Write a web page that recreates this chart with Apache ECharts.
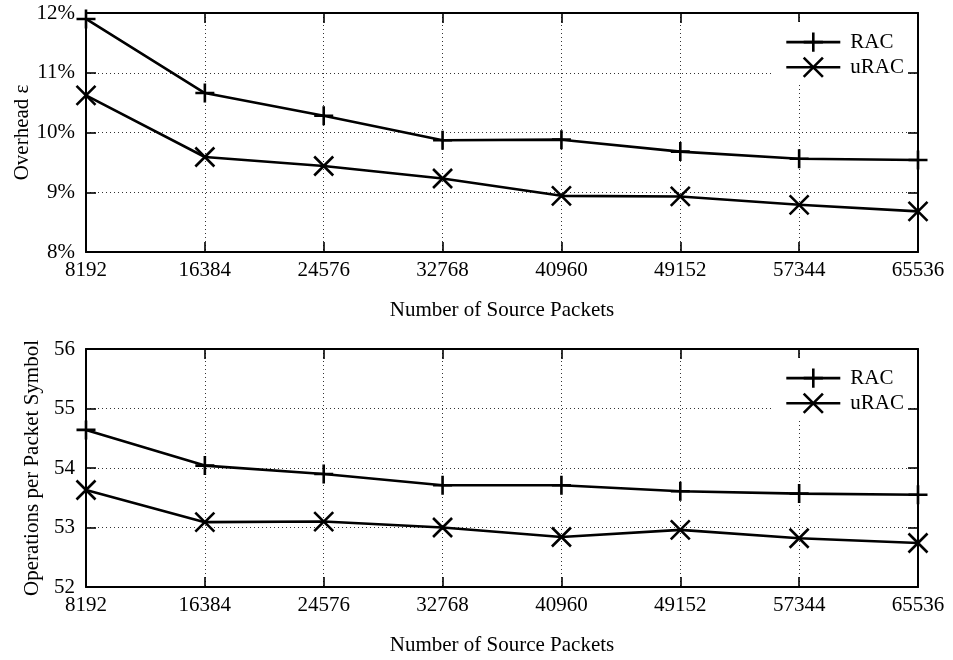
<!DOCTYPE html>
<html>
<head>
<meta charset="utf-8">
<title>RAC vs uRAC</title>
<script src="https://cdn.jsdelivr.net/npm/echarts@6/dist/echarts.min.js"></script>
<style>
  html, body { margin: 0; padding: 0; background: #fff; }
  #chart { width: 953px; height: 660px; }
</style>
</head>
<body>
<div id="chart"></div>
<script>
// Number of source packets (shared x values of both panels)
const sourcePackets = [8192, 16384, 24576, 32768, 40960, 49152, 57344, 65536];

// Upper panel: decoding overhead in percent
const overheadRAC  = [11.90, 10.66, 10.28, 9.87, 9.88, 9.68, 9.56, 9.54];
const overheadURAC = [10.62, 9.59, 9.44, 9.23, 8.94, 8.93, 8.79, 8.68];
const overheadTicks = [8, 9, 10, 11, 12];

// Lower panel: operations per packet symbol
const opsRAC  = [54.64, 54.04, 53.90, 53.71, 53.71, 53.61, 53.57, 53.55];
const opsURAC = [53.63, 53.09, 53.10, 53.00, 52.84, 52.96, 52.82, 52.74];
const opsTicks = [52, 53, 54, 55, 56];

const seriesNames = ['RAC', 'uRAC'];

const FONT = 'Liberation Serif, Times New Roman, serif';
const BLACK = '#000';
const PLUS = 'path://M0,10L20,10M10,0L10,20';
const CROSS = 'path://M0,0L20,20M20,0L0,20';

const pairs = (ys) => sourcePackets.map((x, i) => [x, ys[i]]);

const textStyle = { fontFamily: FONT, fontSize: 21, color: BLACK };
const gridLine = { color: '#333', width: 1, type: [1, 3] };

function xAxisPair(gridIndex) {
  const base = {
    type: 'value', gridIndex,
    min: sourcePackets[0], max: sourcePackets[sourcePackets.length - 1],
    interval: sourcePackets[1] - sourcePackets[0],
    axisLine: { show: true, onZero: false, lineStyle: { color: BLACK, width: 2 } },
    axisTick: { show: true, inside: true, length: 10, lineStyle: { color: BLACK, width: 1.6 } }
  };
  return [
    Object.assign({}, base, {
      position: 'bottom',
      name: 'Number of Source Packets', nameLocation: 'middle', nameGap: 48,
      nameMoveOverlap: false,
      nameTextStyle: textStyle,
      axisLabel: Object.assign({ margin: 8, formatter: (v) => String(v) }, textStyle),
      splitLine: { show: true, showMinLine: false, showMaxLine: false, lineStyle: gridLine }
    }),
    Object.assign({}, base, {
      position: 'top',
      axisLabel: { show: false },
      splitLine: { show: false }
    })
  ];
}

function yAxisPair(gridIndex, ticks, name, nameGap, fmt) {
  const base = {
    type: 'value', gridIndex,
    min: ticks[0], max: ticks[ticks.length - 1], interval: ticks[1] - ticks[0],
    axisLine: { show: true, onZero: false, lineStyle: { color: BLACK, width: 2 } },
    axisTick: { show: true, inside: true, length: 10, lineStyle: { color: BLACK, width: 1.6 } }
  };
  return [
    Object.assign({}, base, {
      position: 'left',
      name, nameLocation: 'middle', nameGap,
      nameMoveOverlap: false,
      nameTextStyle: textStyle,
      axisLabel: Object.assign({ margin: 11, formatter: fmt }, textStyle),
      splitLine: { show: true, showMinLine: false, showMaxLine: false, lineStyle: gridLine }
    }),
    Object.assign({}, base, {
      position: 'right', z: 6,
      axisLabel: { show: false },
      splitLine: { show: false }
    })
  ];
}

function lineSeries(name, symbol, xi, yi, ys) {
  return {
    name, type: 'line', xAxisIndex: xi, yAxisIndex: yi,
    data: pairs(ys),
    symbol, symbolSize: 19,
    showAllSymbol: true,
    lineStyle: { color: BLACK, width: 2.6 },
    itemStyle: { color: 'none', borderColor: BLACK, borderWidth: 2.6 },
    emphasis: { disabled: true },
    animation: false
  };
}

function legendAt(top) {
  return {
    data: seriesNames,
    orient: 'vertical', left: 772, top,
    align: 'left',
    backgroundColor: '#fff',
    padding: [8, 3, 4, 13],
    itemWidth: 54, itemHeight: 24, itemGap: 1,
    itemStyle: { color: 'none', borderColor: BLACK, borderWidth: 2.6 },
    lineStyle: { color: BLACK, width: 2.6 },
    textStyle: Object.assign({ padding: [0, 0, 0, 5] }, textStyle),
    selectedMode: false
  };
}

const chart = echarts.init(document.getElementById('chart'), null, { renderer: 'canvas' });

const xTop = xAxisPair(0), xBot = xAxisPair(1);
const yTop = yAxisPair(0, overheadTicks, 'Overhead ε', 53, '{value}%');
const yBot = yAxisPair(1, opsTicks, 'Operations per Packet Symbol', 43, '{value}');

chart.setOption({
  backgroundColor: '#fff',
  animation: false,
  grid: [
    { left: 86, top: 13, width: 832, height: 239, outerBoundsMode: 'none' },
    { left: 86, top: 349, width: 832, height: 238, outerBoundsMode: 'none' }
  ],
  xAxis: [xTop[0], xTop[1], xBot[0], xBot[1]],
  yAxis: [yTop[0], yTop[1], yBot[0], yBot[1]],
  legend: [legendAt(22), legendAt(358)],
  series: [
    lineSeries(seriesNames[0], PLUS, 0, 0, overheadRAC),
    lineSeries(seriesNames[1], CROSS, 0, 0, overheadURAC),
    lineSeries(seriesNames[0], PLUS, 2, 2, opsRAC),
    lineSeries(seriesNames[1], CROSS, 2, 2, opsURAC)
  ]
});
</script>
</body>
</html>
